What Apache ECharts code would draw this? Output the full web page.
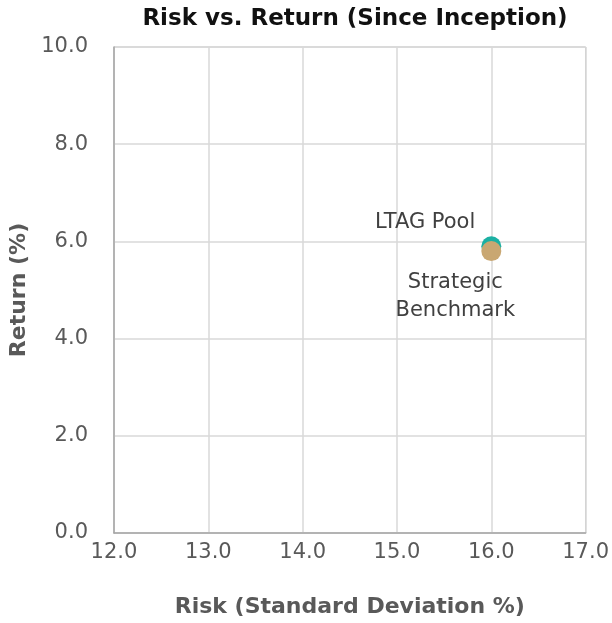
<!DOCTYPE html>
<html>
<head>
<meta charset="utf-8">
<script type="text/javascript" src="https://cdn.jsdelivr.net/npm/echarts@6/dist/echarts.min.js"></script>
<style>
  html, body { margin: 0; padding: 0; background: #fff; }
  #chart-risk { width: 612px; height: 623px; }
</style>
</head>
<body>
<div id="chart-risk"></div>
<script>
// 数据
var seriesNames = ['LTAG Pool', 'Strategic Benchmark'];
var riskValues = [16.0, 16.0];     // 风险 (标准差 %)
var returnValues = [5.9, 5.8];     // 收益 (%)
var seriesColors = ['#1BB0A3', '#C9A772'];

var chartRisk = echarts.init(document.getElementById('chart-risk'));

var FONT = 'DejaVu Sans';
var labelFont = {
  fontFamily: FONT,
  fontSize: 21,
  color: '#404040'
};

var option = {
  animation: false,
  title: {
    text: 'Risk vs. Return (Since Inception)',
    left: 350,
    textAlign: 'center',
    top: 3,
    textStyle: {
      fontFamily: FONT,
      fontWeight: 'bold',
      fontSize: 23,
      color: '#111'
    }
  },
  grid: {
    left: 114,
    right: 24,
    top: 47,
    bottom: 89,
    show: true,
    borderColor: '#bfbfbf',
    borderWidth: 1
  },
  xAxis: {
    type: 'value',
    min: 12,
    max: 17,
    interval: 1,
    name: 'Risk (Standard Deviation %)',
    nameLocation: 'middle',
    nameGap: 63,
    nameTextStyle: {
      fontFamily: FONT,
      fontWeight: 'bold',
      fontSize: 22,
      color: '#595959'
    },
    axisLine: { show: true, lineStyle: { color: '#a6a6a6', width: 1.5 } },
    axisTick: { show: false },
    axisLabel: {
      margin: 9,
      fontFamily: FONT,
      fontSize: 21,
      color: '#595959',
      formatter: function (v) { return v.toFixed(1); }
    },
    splitLine: { show: true, lineStyle: { color: '#d9d9d9', width: 1.5 } }
  },
  yAxis: {
    type: 'value',
    min: 0,
    max: 10,
    interval: 2,
    name: 'Return (%)',
    nameLocation: 'middle',
    nameGap: 77,
    nameTextStyle: {
      fontFamily: FONT,
      fontWeight: 'bold',
      fontSize: 22,
      color: '#595959'
    },
    axisLine: { show: true, lineStyle: { color: '#a6a6a6', width: 1.5 } },
    axisTick: { show: false },
    axisLabel: {
      margin: 26,
      fontFamily: FONT,
      fontSize: 21,
      color: '#595959',
      formatter: function (v) { return v.toFixed(1); }
    },
    splitLine: { show: true, lineStyle: { color: '#d9d9d9', width: 1.5 } }
  },
  series: [
    {
      name: seriesNames[0],
      type: 'scatter',
      symbolSize: 20,
      itemStyle: { color: seriesColors[0], opacity: 1 },
      label: Object.assign({
        show: true,
        position: 'left',
        distance: 6,
        offset: [0, -24],
        formatter: seriesNames[0]
      }, labelFont),
      data: [[riskValues[0], returnValues[0]]]
    },
    {
      name: seriesNames[1],
      type: 'scatter',
      symbolSize: 20,
      itemStyle: { color: seriesColors[1], opacity: 1 },
      label: Object.assign({
        show: true,
        position: 'bottom',
        distance: 7,
        offset: [-36, 0],
        align: 'center',
        lineHeight: 28,
        formatter: 'Strategic\nBenchmark'
      }, labelFont),
      data: [[riskValues[1], returnValues[1]]]
    }
  ]
};
chartRisk.setOption(option);
</script>
</body>
</html>
